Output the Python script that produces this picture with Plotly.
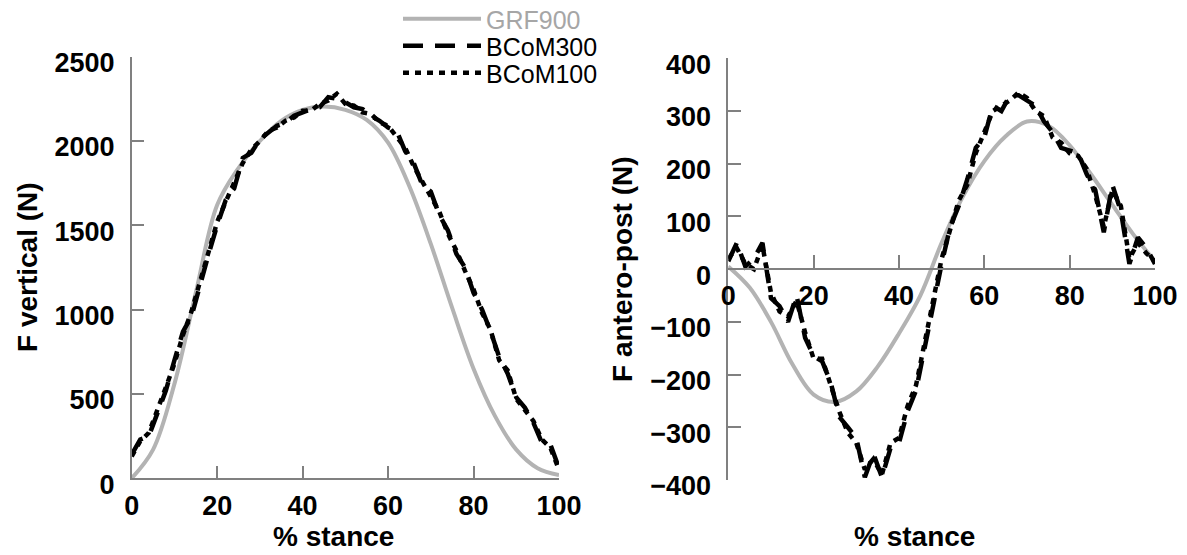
import plotly.graph_objects as go

# ---- data ----
stance_grf = [0, 5, 10, 15, 20, 25, 30, 35, 40, 45, 50, 55, 60, 65, 70, 75, 80, 85, 90, 95, 100]
grf900_vert = [0, 170, 560, 1100, 1620, 1840, 2000, 2120, 2185, 2205, 2185, 2125, 1990, 1730, 1390, 1010, 650, 370, 170, 60, 20]

stance_bcom = [0, 2, 4, 6, 8, 10, 12, 14, 16, 18, 20, 22, 24, 26, 28, 30, 32, 34, 36, 38, 40,
               42, 44, 46, 48, 50, 52, 54, 56, 58, 60, 62, 64, 66, 68, 70, 72, 74, 76, 78, 80,
               82, 84, 86, 88, 90, 92, 94, 96, 98, 100]
bcom300_vert = [140, 230, 250, 380, 520, 700, 870, 960, 1150, 1330, 1500, 1650, 1720, 1900, 1930, 2010,
                2050, 2090, 2110, 2150, 2170, 2190, 2200, 2260, 2250, 2230, 2200, 2190, 2150, 2120, 2080,
                2060, 1940, 1870, 1740, 1700, 1560, 1470, 1330, 1250, 1100, 1000, 870, 720, 620, 480,
                420, 330, 210, 200, 60]
bcom100_vert = [130, 220, 270, 400, 540, 680, 850, 990, 1170, 1350, 1520, 1640, 1760, 1870, 1950, 2000,
                2060, 2080, 2120, 2140, 2180, 2180, 2220, 2240, 2280, 2220, 2210, 2170, 2160, 2110, 2090,
                2030, 1960, 1850, 1760, 1680, 1580, 1450, 1350, 1230, 1120, 980, 880, 700, 640, 470,
                410, 340, 230, 180, 50]

stance_grf_ap = [0, 5, 10, 15, 20, 25, 30, 35, 40, 45, 50, 55, 60, 65, 70, 75, 80, 85, 90, 95, 100]
grf900_ap = [5, -35, -100, -180, -238, -252, -232, -185, -122, -50, 50, 138, 205, 252, 280, 272, 235, 180, 122, 65, 15]
bcom300_ap = [15, 50, 5, 20, 50, -55, -70, -100, -50, -130, -165, -175, -215, -280, -300, -320, -395,
              -350, -395, -340, -330, -270, -230, -150, -60, 10, 80, 120, 170, 230, 250, 310, 300, 330,
              330, 320, 310, 280, 260, 230, 225, 220, 180, 150, 70, 160, 110, 10, 60, 40, 10]
bcom100_ap = [20, 40, 10, 0, 45, -45, -80, -90, -60, -120, -170, -170, -220, -270, -310, -330, -380,
              -360, -390, -330, -320, -260, -220, -140, -50, 20, 75, 130, 160, 220, 260, 300, 310, 320,
              335, 325, 300, 290, 250, 240, 220, 215, 190, 140, 80, 150, 120, 20, 50, 30, 15]

x_ticks = [0, 20, 40, 60, 80, 100]
vert_ticks = [0, 500, 1000, 1500, 2000, 2500]
ap_ticks = [-400, -300, -200, -100, 0, 100, 200, 300, 400]

names = ["GRF900", "BCoM300", "BCoM100"]

# ---- style ----
W, H = 1187, 555
GREY_LINE = "#b3b3b3"
AXIS = "#808080"
FONT = "Arial, Liberation Sans, sans-serif"
BLACK_W = 4.5

fig = go.Figure()

fig.add_trace(go.Scatter(x=stance_grf, y=grf900_vert, mode="lines", line=dict(color=GREY_LINE, width=4, shape="spline"),
                         name="<span style='color:#a6a6a6'>" + names[0] + "</span>", legend="legend",
                         xaxis="x", yaxis="y"))
fig.add_trace(go.Scatter(x=stance_bcom, y=bcom300_vert, mode="lines", line=dict(color="black", width=BLACK_W, dash="20px,12px"),
                         name=names[1], legend="legend2", xaxis="x", yaxis="y"))
fig.add_trace(go.Scatter(x=stance_bcom, y=bcom100_vert, mode="lines", line=dict(color="black", width=BLACK_W, dash="6px,6px"),
                         name=names[2], legend="legend3", xaxis="x", yaxis="y"))

fig.add_trace(go.Scatter(x=stance_grf_ap, y=grf900_ap, mode="lines", line=dict(color=GREY_LINE, width=4, shape="spline"),
                         showlegend=False, xaxis="x2", yaxis="y2"))
fig.add_trace(go.Scatter(x=stance_bcom, y=bcom300_ap, mode="lines", line=dict(color="black", width=BLACK_W, dash="20px,12px"),
                         showlegend=False, xaxis="x2", yaxis="y2"))
fig.add_trace(go.Scatter(x=stance_bcom, y=bcom100_ap, mode="lines", line=dict(color="black", width=BLACK_W, dash="6px,6px"),
                         showlegend=False, xaxis="x2", yaxis="y2"))

tickfont = dict(family=FONT, size=27, color="black", weight="bold")
common = dict(showgrid=False, zeroline=False, showline=True, linecolor=AXIS, linewidth=1.5,
              ticks="inside", ticklen=13, tickwidth=1.5, tickcolor=AXIS, tickfont=tickfont,
              automargin=False)

yd1 = [(H - 478.3) / H, (H - 56.7) / H]
yd2 = [(H - 480) / H, (H - 58.3) / H]

legend_common = dict(xanchor="left", yanchor="middle", itemwidth=78,
                     font=dict(family=FONT, size=25, color="black"), bgcolor="rgba(0,0,0,0)")

fig.update_layout(
    width=W, height=H, margin=dict(l=0, r=0, t=0, b=0, autoexpand=False),
    paper_bgcolor="white", plot_bgcolor="white",
    xaxis=dict(domain=[131.7 / W, 559 / W], range=[0, 100], tickvals=x_ticks, anchor="y",
               ticklabelstandoff=3, **common),
    yaxis=dict(domain=yd1, range=[0, 2500], tickvals=vert_ticks, anchor="x",
               ticklabelstandoff=10, ticklabelshift=6, **common),
    xaxis2=dict(domain=[728.3 / W, 1155 / W], range=[0, 100], tickvals=x_ticks, anchor="free",
                position=(yd2[0] + yd2[1]) / 2, ticklabelstandoff=3, **common),
    yaxis2=dict(domain=yd2, range=[-400, 400], tickvals=ap_ticks, anchor="x2",
                ticklabelstandoff=10, ticklabelshift=6, **common),
    showlegend=True,
    legend=dict(x=398 / W, y=1 - 19 / H, **legend_common),
    legend2=dict(x=398 / W, y=1 - 46 / H, **legend_common),
    legend3=dict(x=398 / W, y=1 - 73 / H, **legend_common),
)

title_font = dict(family=FONT, size=28, color="black", weight="bold")
fig.add_annotation(text="F vertical (N)", textangle=-90, x=27 / W, y=(H - 267) / H, xref="paper", yref="paper",
                   showarrow=False, font=title_font, xanchor="center", yanchor="middle")
fig.add_annotation(text="F antero-post (N)", textangle=-90, x=622 / W, y=(H - 269) / H, xref="paper", yref="paper",
                   showarrow=False, font=title_font, xanchor="center", yanchor="middle")
fig.add_annotation(text="% stance", x=333 / W, y=(H - 536) / H, xref="paper", yref="paper",
                   showarrow=False, font=title_font, xanchor="center", yanchor="middle")
fig.add_annotation(text="% stance", x=914 / W, y=(H - 536) / H, xref="paper", yref="paper",
                   showarrow=False, font=title_font, xanchor="center", yanchor="middle")

fig.write_html("out.html", config={"displayModeBar": False},
               post_script="document.body.style.margin='0';document.body.style.overflow='hidden';")
